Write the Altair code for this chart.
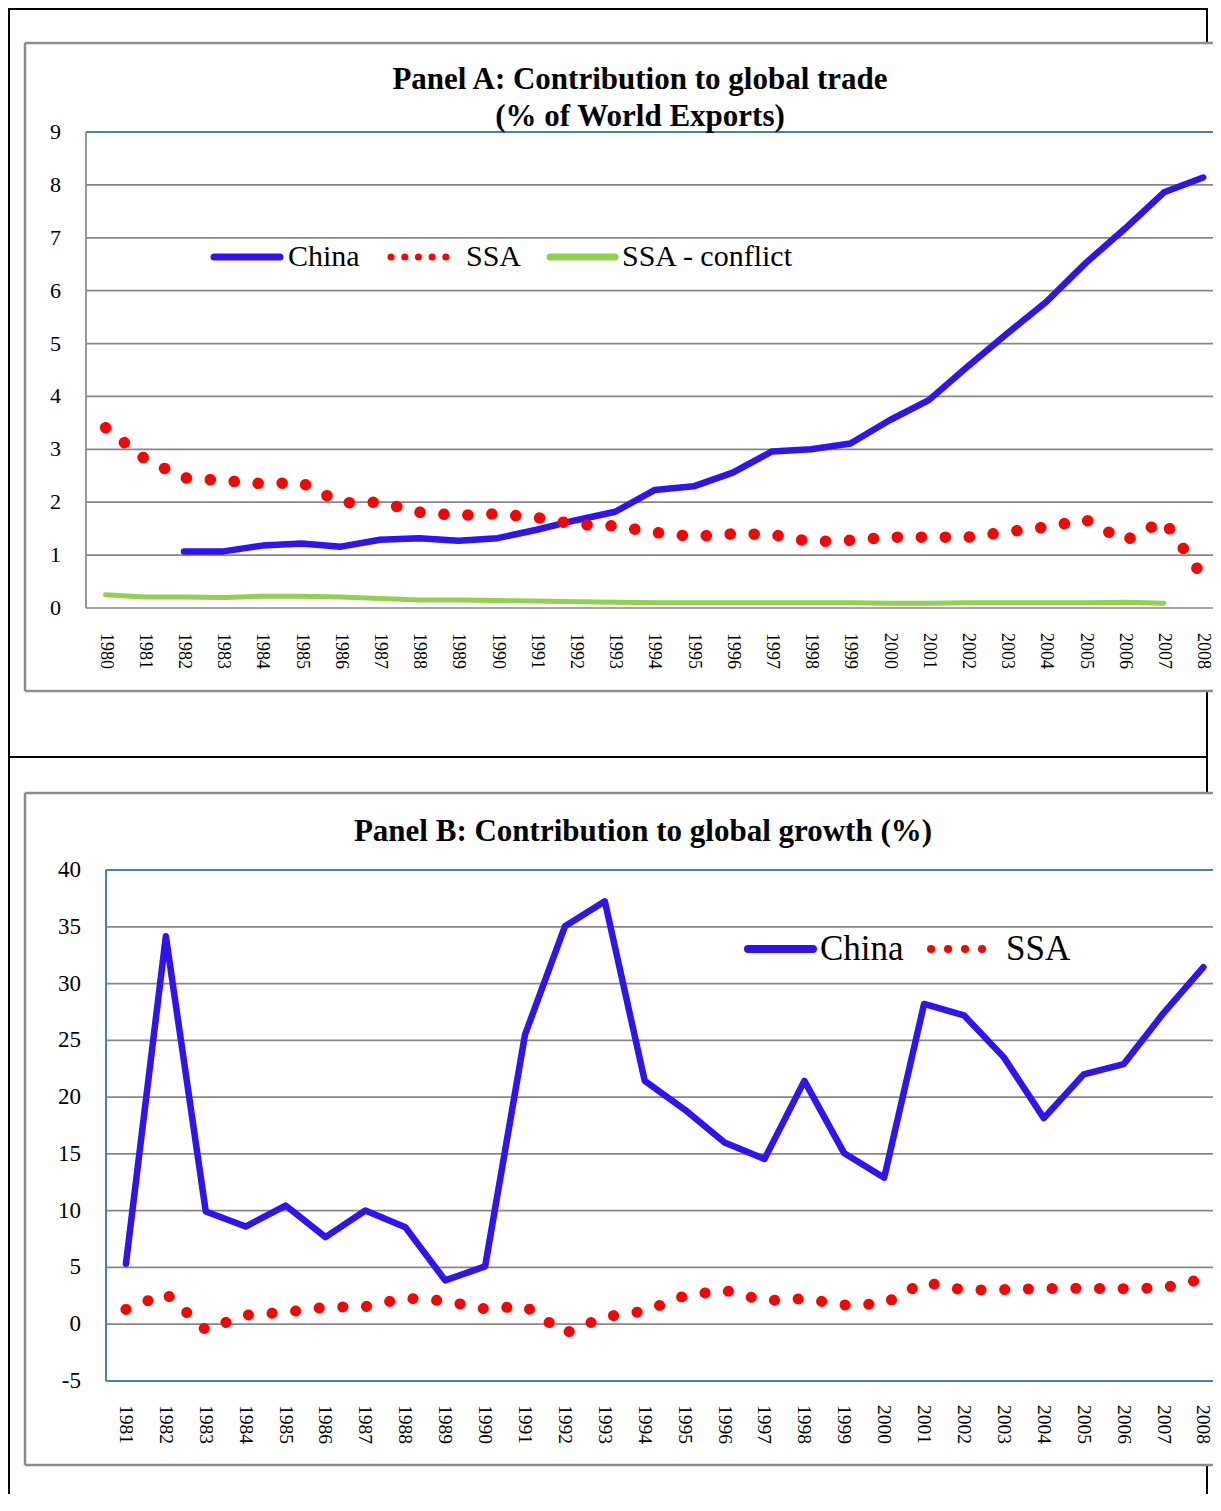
import altair as alt
import pandas as pd

# ---------------- data ----------------
years_a = list(range(1980, 2009))
china_a = [None, None, 1.07, 1.07, 1.18, 1.22, 1.16, 1.29, 1.32, 1.27, 1.32, 1.48, 1.66, 1.82,
           2.23, 2.30, 2.56, 2.96, 3.00, 3.11, 3.55, 3.93, 4.57, 5.19, 5.79, 6.52, 7.17, 7.86, 8.14]
ssa_a = [3.41, 2.82, 2.46, 2.41, 2.35, 2.37, 1.99, 2.00, 1.81, 1.75, 1.78, 1.71, 1.58, 1.55,
         1.43, 1.35, 1.40, 1.39, 1.25, 1.28, 1.34, 1.34, 1.34, 1.44, 1.53, 1.67, 1.27, 1.65, 0.58]
conflict_a = [0.25, 0.21, 0.21, 0.20, 0.22, 0.22, 0.21, 0.18, 0.15, 0.15, 0.14, 0.13, 0.12, 0.11,
              0.10, 0.10, 0.10, 0.10, 0.10, 0.10, 0.09, 0.09, 0.10, 0.10, 0.10, 0.10, 0.11, 0.09, None]

years_b = list(range(1981, 2009))
china_b = [5.33, 34.16, 9.92, 8.60, 10.45, 7.67, 10.01, 8.55, 3.86, 5.09, 25.50, 35.04, 37.24,
           21.43, 18.90, 16.00, 14.55, 21.43, 15.05, 12.90, 28.20, 27.20, 23.50, 18.15, 22.00,
           22.90, 27.40, 31.44]
ssa_b = [1.30, 2.70, -0.50, 0.80, 1.05, 1.50, 1.55, 2.30, 2.05, 1.35, 1.60, -0.80, 0.65,
         1.15, 2.50, 3.00, 2.07, 2.25, 1.70, 1.80, 3.70, 3.00, 3.05, 3.15, 3.17, 3.13, 3.20, 4.00]

ticks_a = list(range(0, 10))
ticks_b = list(range(-5, 45, 5))

title_a1 = "Panel A: Contribution to global trade"
title_a2 = "(% of World Exports)"
title_b = "Panel B: Contribution to global growth (%)"
series_names = ["China", "SSA", "SSA - conflict"]

# ---------------- styling ----------------
SERIF = "Liberation Serif"
BLUE = "#2E14F0"
RED = "#FF0000"
GREEN = "#92D050"
GRID = "#878787"
FRAME = "#8C8C8C"
BORDER = "#4A7EBB"
W, H = 1205, 1486

one = pd.DataFrame({"k": [0]})


def hrule(x1, x2, y, color, w):
    return alt.Chart(one).mark_rule(color=color, strokeWidth=w).encode(
        x=alt.value(x1), x2=alt.value(x2), y=alt.value(y))


def vrule(x, y1, y2, color, w):
    return alt.Chart(one).mark_rule(color=color, strokeWidth=w).encode(
        x=alt.value(x), y=alt.value(y1), y2=alt.value(y2))


def label(text, x, y, size, bold=False, align="left"):
    return alt.Chart(one).mark_text(
        font=SERIF, fontSize=size, fontWeight="bold" if bold else "normal",
        align=align, baseline="middle", color="black").encode(
        x=alt.value(x), y=alt.value(y), text=alt.value(text))


def series_df(years, vals):
    d = pd.DataFrame({"year": years, "value": vals})
    return d.dropna()


def tick_df(vals):
    return pd.DataFrame({"value": vals, "lab": [str(v) for v in vals]})


# ---------------- panel A ----------------
xa = alt.Scale(domain=[1979.5, 2008.25], range=[78, W], nice=False, zero=False)
ya = alt.Scale(domain=[0, 9], range=[600, 124], nice=False, zero=False)
XA = alt.X("year:Q", scale=xa, axis=None)
YA = alt.Y("value:Q", scale=ya, axis=None)

ticks_a_df = tick_df(ticks_a)
years_a_df = pd.DataFrame({"year": years_a, "lab": [str(y) for y in years_a]})

A = [
    hrule(17, W, 35, FRAME, 2.5),
    vrule(17, 35, 683, FRAME, 2.5),
    hrule(17, W, 683, FRAME, 2.5),
    alt.Chart(ticks_a_df).transform_filter("datum.value < 9").mark_rule(
        color=GRID, strokeWidth=1.7).encode(y=YA, x=alt.value(78), x2=alt.value(W)),
    alt.Chart(ticks_a_df).transform_filter("datum.value == 9").mark_rule(
        color=BORDER, strokeWidth=2).encode(y=YA, x=alt.value(78), x2=alt.value(W)),
    vrule(78, 124, 600, GRID, 1.7),
    alt.Chart(ticks_a_df).mark_text(font=SERIF, fontSize=22, align="right",
                                    baseline="middle", color="black").encode(
        y=YA, x=alt.value(53), text="lab:N"),
    alt.Chart(years_a_df).mark_text(font=SERIF, fontSize=18, align="left", angle=90,
                                    baseline="middle", color="black").encode(
        x=XA, y=alt.value(625), text="lab:N"),
    alt.Chart(series_df(years_a, china_a)).mark_line(
        color=BLUE, strokeWidth=6.5, strokeCap="round", strokeJoin="round").encode(x=XA, y=YA),
    alt.Chart(series_df(years_a, ssa_a)).mark_line(
        color=RED, strokeWidth=11.5, strokeCap="round", strokeDash=[0.1, 23.9]).encode(x=XA, y=YA),
    alt.Chart(series_df(years_a, conflict_a)).mark_line(
        color=GREEN, strokeWidth=5, strokeCap="round", strokeJoin="round").encode(x=XA, y=YA),
    label(title_a1, 632, 72, 31, bold=True, align="center"),
    label(title_a2, 632, 109, 31, bold=True, align="center"),
    # legend
    alt.Chart(one).mark_rule(color=BLUE, strokeWidth=7, strokeCap="round").encode(
        x=alt.value(206), x2=alt.value(272), y=alt.value(249)),
    label(series_names[0], 280, 249, 30),
    alt.Chart(one).mark_rule(color=RED, strokeWidth=7, strokeCap="round",
                             strokeDash=[0.1, 13.6]).encode(
        x=alt.value(383), x2=alt.value(439), y=alt.value(249)),
    label(series_names[1], 458, 249, 30),
    alt.Chart(one).mark_rule(color=GREEN, strokeWidth=7, strokeCap="round").encode(
        x=alt.value(542), x2=alt.value(607), y=alt.value(249)),
    label(series_names[2], 614, 249, 30),
]

# ---------------- panel B ----------------
xb = alt.Scale(domain=[1980.5, 2008.24], range=[98, W], nice=False, zero=False)
yb = alt.Scale(domain=[-5, 40], range=[1373, 862], nice=False, zero=False)
XB = alt.X("year:Q", scale=xb, axis=None)
YB = alt.Y("value:Q", scale=yb, axis=None)

ticks_b_df = tick_df(ticks_b)
years_b_df = pd.DataFrame({"year": years_b, "lab": [str(y) for y in years_b]})

B = [
    hrule(17, W, 785, FRAME, 2.5),
    vrule(17, 785, 1457, FRAME, 2.5),
    hrule(17, W, 1457, FRAME, 2.5),
    alt.Chart(ticks_b_df).transform_filter("datum.value > -5 && datum.value < 40").mark_rule(
        color=GRID, strokeWidth=1.7).encode(y=YB, x=alt.value(98), x2=alt.value(W)),
    alt.Chart(ticks_b_df).transform_filter("datum.value == -5 || datum.value == 40").mark_rule(
        color=BORDER, strokeWidth=2).encode(y=YB, x=alt.value(98), x2=alt.value(W)),
    vrule(98, 862, 1373, BORDER, 2),
    alt.Chart(ticks_b_df).mark_text(font=SERIF, fontSize=23, align="right",
                                    baseline="middle", color="black").encode(
        y=YB, x=alt.value(73), text="lab:N"),
    alt.Chart(years_b_df).mark_text(font=SERIF, fontSize=19.5, align="left", angle=90,
                                    baseline="middle", color="black").encode(
        x=XB, y=alt.value(1397), text="lab:N"),
    alt.Chart(series_df(years_b, china_b)).mark_line(
        color=BLUE, strokeWidth=6.5, strokeCap="round", strokeJoin="round").encode(x=XB, y=YB),
    alt.Chart(series_df(years_b, ssa_b)).mark_line(
        color=RED, strokeWidth=11, strokeCap="round", strokeDash=[0.1, 23.6]).encode(x=XB, y=YB),
    label(title_b, 635, 824, 31, bold=True, align="center"),
    alt.Chart(one).mark_rule(color=BLUE, strokeWidth=8, strokeCap="round").encode(
        x=alt.value(740), x2=alt.value(805), y=alt.value(941)),
    label(series_names[0], 812, 941, 35),
    alt.Chart(one).mark_rule(color=RED, strokeWidth=8, strokeCap="round",
                             strokeDash=[0.1, 16.9]).encode(
        x=alt.value(923), x2=alt.value(975), y=alt.value(941)),
    label(series_names[1], 998, 941, 35),
]

# ---------------- page borders ----------------
P = [
    hrule(0, 1200, 1, "black", 2),
    vrule(1, 0, H, "black", 2),
    hrule(0, 1200, 749, "black", 2),
    vrule(1199, 0, 35, "black", 2),
    vrule(1199, 683, 785, "black", 2),
    vrule(1199, 1457, H, "black", 2),
]

layer_a = alt.layer(*A)
layer_b = alt.layer(*B)
layer_p = alt.layer(*P)

chart = alt.layer(layer_p, layer_a, layer_b).resolve_scale(
    x="independent", y="independent"
).properties(
    width=W, height=H, padding=0,
    autosize=alt.AutoSizeParams(type="none"),
    background="white",
).configure_view(stroke=None)

chart.save("out.html", embed_options={"renderer": "svg", "actions": False})
